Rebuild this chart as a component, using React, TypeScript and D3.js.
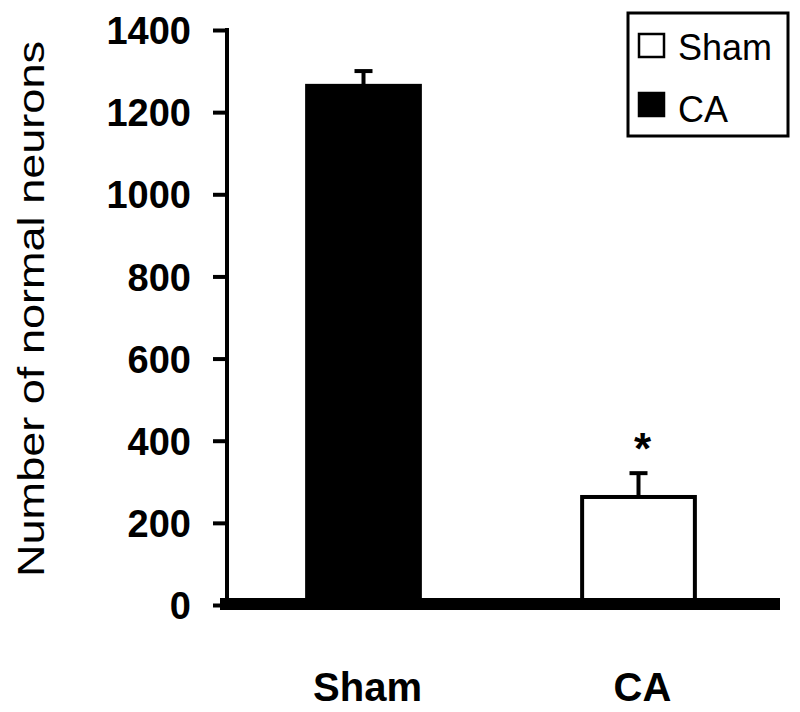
import { useEffect, useRef } from "react";
import * as d3 from "d3";

const categories = ["Sham", "CA"];
const neuronCounts = [1264, 263];
const errorValues = [36, 58];
const barFills = ["black", "white"];
const yTicks = [0, 200, 400, 600, 800, 1000, 1200, 1400];
const legendLabels = ["Sham", "CA"];
const legendFills = ["white", "black"];
const significant = [false, true];

export default function App() {
    const ref = useRef<SVGSVGElement>(null);

    useEffect(() => {
        const svg = d3.select(ref.current);
        svg.selectAll("*").remove();
        const font = "Arial, 'Liberation Sans', sans-serif";

        // scales
        const y = d3.scaleLinear().domain([0, 1400]).range([605, 30]);
        const x = d3.scaleBand<string>()
            .domain(categories)
            .range([226, 776])
            .paddingInner(0.59)
            .paddingOuter(0.295);

        // bars
        svg.selectAll("rect.bar")
            .data(categories)
            .enter()
            .append("rect")
            .attr("class", "bar")
            .attr("x", d => x(d)!)
            .attr("y", (d, i) => y(neuronCounts[i]))
            .attr("width", x.bandwidth())
            .attr("height", (d, i) => y(0) - y(neuronCounts[i]))
            .attr("fill", (d, i) => barFills[i])
            .attr("stroke", "black")
            .attr("stroke-width", 4);

        // error bars (upper only)
        const err = svg.append("g").attr("stroke", "black").attr("stroke-width", 4);
        categories.forEach((c, i) => {
            const cx = x(c)! + x.bandwidth() / 2;
            const top = y(neuronCounts[i] + errorValues[i]);
            err.append("line")
                .attr("x1", cx).attr("x2", cx)
                .attr("y1", y(neuronCounts[i])).attr("y2", top);
            err.append("line")
                .attr("x1", cx - 9).attr("x2", cx + 9)
                .attr("y1", top).attr("y2", top);
            if (significant[i]) {
                svg.append("text")
                    .attr("x", cx + 4)
                    .attr("y", top - 9)
                    .attr("text-anchor", "middle")
                    .attr("font-family", font)
                    .attr("font-size", 44)
                    .attr("font-weight", "bold")
                    .text("*");
            }
        });

        // y axis
        const yAxis = d3.axisLeft(y)
            .tickValues(yTicks)
            .tickSize(14)
            .tickPadding(22)
            .tickFormat(d3.format("d"));
        const ag = svg.append("g")
            .attr("transform", "translate(227,0)")
            .call(yAxis);
        ag.select(".domain").remove();
        ag.selectAll(".tick line").attr("stroke", "black").attr("stroke-width", 4);
        ag.selectAll(".tick text")
            .attr("font-family", font)
            .attr("font-size", 38)
            .attr("font-weight", "bold")
            .attr("fill", "black")
            .attr("dy", "0.36em");
        svg.append("line")
            .attr("x1", 227).attr("x2", 227)
            .attr("y1", y(1400) - 2).attr("y2", y(0))
            .attr("stroke", "black").attr("stroke-width", 4);

        // thick baseline
        svg.append("line")
            .attr("x1", 220).attr("x2", 780)
            .attr("y1", y(0) - 1).attr("y2", y(0) - 1)
            .attr("stroke", "black").attr("stroke-width", 12);

        // category labels
        svg.selectAll("text.cat")
            .data(categories)
            .enter()
            .append("text")
            .attr("class", "cat")
            .attr("x", d => x(d)! + x.bandwidth() / 2 + 4)
            .attr("y", 701)
            .attr("text-anchor", "middle")
            .attr("font-family", font)
            .attr("font-size", 40)
            .attr("font-weight", "bold")
            .text(d => d);

        // y title
        svg.append("text")
            .attr("transform", "translate(44,309) rotate(-90)")
            .attr("text-anchor", "middle")
            .attr("font-family", font)
            .attr("font-size", 37)
            .attr("textLength", 536)
            .attr("lengthAdjust", "spacingAndGlyphs")
            .text("Number of normal neurons");

        // legend
        const lg = svg.append("g");
        lg.append("rect")
            .attr("x", 628).attr("y", 13)
            .attr("width", 160).attr("height", 123)
            .attr("fill", "white")
            .attr("stroke", "black").attr("stroke-width", 3);
        legendLabels.forEach((l, i) => {
            lg.append("rect")
                .attr("x", 639).attr("y", 34 + i * 59)
                .attr("width", 25).attr("height", 23)
                .attr("fill", legendFills[i])
                .attr("stroke", "black").attr("stroke-width", 2.5);
            lg.append("text")
                .attr("x", 678).attr("y", 60 + i * 62)
                .attr("font-family", font)
                .attr("font-size", 36)
                .text(l);
        });
    }, []);

    return (
        <svg
            ref={ref}
            width={800}
            height={712}
            style={{ position: "absolute", left: 0, top: 0, background: "white" }}
        />
    );
}
